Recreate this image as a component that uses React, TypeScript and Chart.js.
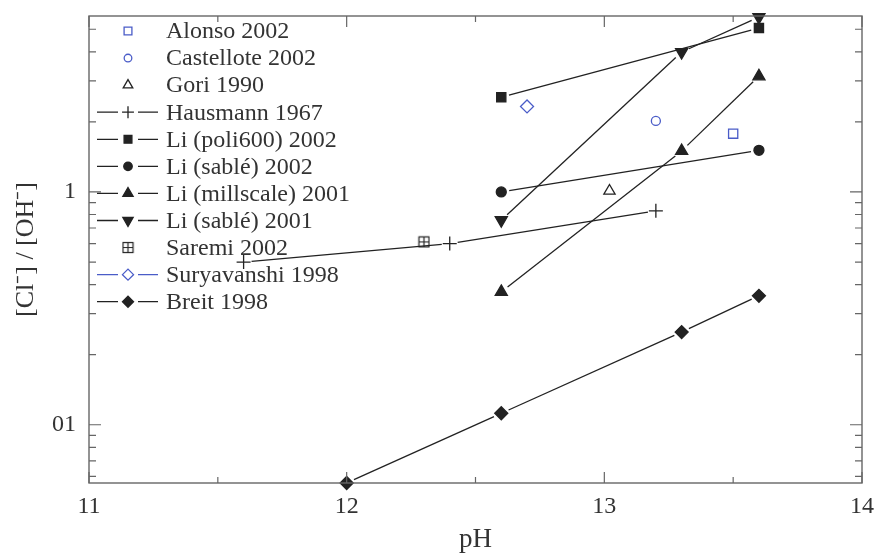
import React, { useEffect, useRef } from "react";
import { Chart, registerables } from "chart.js";
import { drawPoint } from "chart.js/helpers";

Chart.register(...registerables);

// ---- data (pH, [Cl-]/[OH-]) ----
const alonsoX = [13.5];
const alonsoY = [1.78];
const castelloteX = [13.2];
const castelloteY = [2.02];
const goriX = [13.02];
const goriY = [1.01];
const hausmannX = [11.6, 12.4, 13.2];
const hausmannY = [0.5, 0.6, 0.83];
const liPoliX = [12.6, 13.6];
const liPoliY = [2.55, 5.06];
const liSable2002X = [12.6, 13.6];
const liSable2002Y = [1.0, 1.51];
const liMillX = [12.6, 13.3, 13.6];
const liMillY = [0.372, 1.5, 3.14];
const liSable2001X = [12.6, 13.3, 13.6];
const liSable2001Y = [0.756, 3.99, 5.64];
const saremiX = [12.3];
const saremiY = [0.61];
const suryX = [12.7];
const suryY = [2.33];
const breitX = [12.0, 12.6, 13.3, 13.6];
const breitY = [0.0562, 0.112, 0.25, 0.358];

const seriesLabels = [
  "Alonso 2002",
  "Castellote 2002",
  "Gori 1990",
  "Hausmann 1967",
  "Li (poli600) 2002",
  "Li (sablé) 2002",
  "Li (millscale) 2001",
  "Li (sablé) 2001",
  "Saremi 2002",
  "Suryavanshi 1998",
  "Breit 1998",
];

// ---- axes ----
const xMin = 11;
const xMax = 14;
const yMin = 0.0562;
const yMax = 5.7;
const xLabelTicks = [11, 12, 13, 14];
const xMinorTicks = [11.5, 12.5, 13.5];
const yLabelTicks = [0.1, 1];
const yTickLabels = ["01", "1"];
const yMinorTicks = [0.06, 0.07, 0.08, 0.09, 0.2, 0.3, 0.4, 0.5, 0.6, 0.7, 0.8, 0.9, 2, 3, 4, 5];

const SERIF = '"Liberation Serif", "Times New Roman", serif';
const BLUE = "#4a5cc8";
const INK = "#222";

function makeSaremiMarker(): HTMLCanvasElement {
  const c = document.createElement("canvas");
  c.width = 13;
  c.height = 13;
  const g = c.getContext("2d")!;
  g.strokeStyle = INK;
  g.lineWidth = 1.2;
  g.strokeRect(1.5, 1.5, 10, 10);
  g.beginPath();
  g.moveTo(6.5, 1.5);
  g.lineTo(6.5, 11.5);
  g.moveTo(1.5, 6.5);
  g.lineTo(11.5, 6.5);
  g.stroke();
  return c;
}

function pts(xs: number[], ys: number[]) {
  return xs.map((x, i) => ({ x, y: ys[i] }));
}

const GAP = 8;

const gapLinePlugin = {
  id: "gapLines",
  beforeDatasetsDraw(chart: any) {
    const ctx = chart.ctx;
    chart.data.datasets.forEach((ds: any, i: number) => {
      if (!ds.gapLine) return;
      const meta = chart.getDatasetMeta(i);
      const p = meta.data;
      ctx.save();
      ctx.strokeStyle = ds.lineColor;
      ctx.lineWidth = 1.3;
      for (let k = 0; k < p.length - 1; k++) {
        const a = p[k], b = p[k + 1];
        const dx = b.x - a.x, dy = b.y - a.y;
        const len = Math.hypot(dx, dy);
        if (len < 2 * GAP) continue;
        const ux = dx / len, uy = dy / len;
        ctx.beginPath();
        ctx.moveTo(a.x + ux * GAP, a.y + uy * GAP);
        ctx.lineTo(b.x - ux * GAP, b.y - uy * GAP);
        ctx.stroke();
      }
      ctx.restore();
    });
  },
};

const framePlugin = {
  id: "frameTicks",
  afterDraw(chart: any) {
    const ctx = chart.ctx;
    const { left, right, top, bottom } = chart.chartArea;
    const xs = chart.scales.x, ys = chart.scales.y;
    ctx.save();
    ctx.strokeStyle = "#666";
    ctx.lineWidth = 1.4;
    ctx.strokeRect(left, top, right - left, bottom - top);
    ctx.lineWidth = 1.2;
    ctx.beginPath();
    const xt = (v: number, len: number) => {
      const px = xs.getPixelForValue(v);
      ctx.moveTo(px, bottom);
      ctx.lineTo(px, bottom - len);
      ctx.moveTo(px, top);
      ctx.lineTo(px, top + len);
    };
    const yt = (v: number, len: number) => {
      const py = ys.getPixelForValue(v);
      ctx.moveTo(left, py);
      ctx.lineTo(left + len, py);
      ctx.moveTo(right, py);
      ctx.lineTo(right - len, py);
    };
    xLabelTicks.forEach((v) => xt(v, 11));
    xMinorTicks.forEach((v) => xt(v, 6));
    yLabelTicks.forEach((v) => yt(v, 12));
    yMinorTicks.forEach((v) => yt(v, 7));
    ctx.stroke();
    ctx.restore();
  },
};

const legendPlugin = {
  id: "insideLegend",
  afterDraw(chart: any) {
    const ctx = chart.ctx;
    const x0 = 97, x1 = 158, xm = 128, xt = 166;
    const yStart = 31, dy = 27.07;
    ctx.save();
    chart.data.datasets.forEach((ds: any, i: number) => {
      const y = yStart + i * dy;
      if (ds.gapLine) {
        ctx.strokeStyle = ds.lineColor;
        ctx.lineWidth = 1.3;
        ctx.beginPath();
        ctx.moveTo(x0, y);
        ctx.lineTo(xm - GAP - 2, y);
        ctx.moveTo(xm + GAP + 2, y);
        ctx.lineTo(x1, y);
        ctx.stroke();
      }
      ctx.fillStyle = ds.pointBackgroundColor;
      ctx.strokeStyle = ds.pointBorderColor;
      ctx.lineWidth = ds.pointBorderWidth;
      drawPoint(
        ctx,
        {
          pointStyle: ds.pointStyle,
          rotation: ds.pointRotation || 0,
          radius: ds.pointRadius * 0.85,
          borderWidth: ds.pointBorderWidth,
        },
        xm,
        y
      );
      ctx.fillStyle = "#333";
      ctx.font = `24px ${SERIF}`;
      ctx.textBaseline = "middle";
      ctx.textAlign = "left";
      ctx.fillText(ds.label, xt, y + 1);
    });
    ctx.restore();
  },
};

export default function App() {
  const ref = useRef<HTMLCanvasElement | null>(null);

  useEffect(() => {
    const saremiMarker = makeSaremiMarker();
    const base = {
      showLine: false,
      clip: false,
      pointBorderWidth: 1.3,
      pointHoverRadius: 0,
    };
    const datasets: any[] = [
      { ...base, label: seriesLabels[0], data: pts(alonsoX, alonsoY), pointStyle: "rect", pointRadius: 6.5, pointBackgroundColor: "rgba(255,255,255,0)", pointBorderColor: BLUE, gapLine: false },
      { ...base, label: seriesLabels[1], data: pts(castelloteX, castelloteY), pointStyle: "circle", pointRadius: 4.5, pointBackgroundColor: "rgba(255,255,255,0)", pointBorderColor: BLUE, gapLine: false },
      { ...base, label: seriesLabels[2], data: pts(goriX, goriY), pointStyle: "triangle", pointRadius: 6.5, pointBackgroundColor: "rgba(255,255,255,0)", pointBorderColor: INK, gapLine: false },
      { ...base, label: seriesLabels[3], data: pts(hausmannX, hausmannY), pointStyle: "cross", pointRadius: 7, pointBackgroundColor: INK, pointBorderColor: INK, gapLine: true, lineColor: INK },
      { ...base, label: seriesLabels[4], data: pts(liPoliX, liPoliY), pointStyle: "rect", pointRadius: 6.5, pointBackgroundColor: INK, pointBorderColor: INK, gapLine: true, lineColor: INK },
      { ...base, label: seriesLabels[5], data: pts(liSable2002X, liSable2002Y), pointStyle: "circle", pointRadius: 5, pointBackgroundColor: INK, pointBorderColor: INK, gapLine: true, lineColor: INK },
      { ...base, label: seriesLabels[6], data: pts(liMillX, liMillY), pointStyle: "triangle", pointRadius: 7, pointBackgroundColor: INK, pointBorderColor: INK, gapLine: true, lineColor: INK },
      { ...base, label: seriesLabels[7], data: pts(liSable2001X, liSable2001Y), pointStyle: "triangle", pointRotation: 180, pointRadius: 7, pointBackgroundColor: INK, pointBorderColor: INK, gapLine: true, lineColor: INK },
      { ...base, label: seriesLabels[8], data: pts(saremiX, saremiY), pointStyle: saremiMarker, pointRadius: 6, pointBackgroundColor: INK, pointBorderColor: INK, gapLine: false },
      { ...base, label: seriesLabels[9], data: pts(suryX, suryY), pointStyle: "rectRot", pointRadius: 6.5, pointBackgroundColor: "rgba(255,255,255,0)", pointBorderColor: BLUE, gapLine: true, lineColor: BLUE },
      { ...base, label: seriesLabels[10], data: pts(breitX, breitY), pointStyle: "rectRot", pointRadius: 6.5, pointBackgroundColor: INK, pointBorderColor: INK, gapLine: true, lineColor: INK },
    ];

    const zeroPad = (s: any) => {
      s.paddingTop = 0;
      s.paddingBottom = 0;
      s.paddingLeft = 0;
      s.paddingRight = 0;
    };

    const chart = new Chart(ref.current!, {
      type: "scatter",
      data: { datasets },
      options: {
        animation: false,
        responsive: false,
        devicePixelRatio: 1,
        layout: { padding: { top: 16, right: 14, left: 0, bottom: 0 } },
        plugins: { legend: { display: false }, tooltip: { enabled: false } },
        scales: {
          x: {
            type: "linear",
            min: xMin,
            max: xMax,
            afterBuildTicks: (s: any) => {
              s.ticks = xLabelTicks.map((v) => ({ value: v }));
            },
            afterFit: (s: any) => {
              s.height = 70;
              zeroPad(s);
            },
            grid: { display: false, drawTicks: false },
            border: { display: false },
            ticks: {
              color: "#333",
              padding: 9,
              font: { family: SERIF, size: 24 },
              callback: (v: any) => String(v),
            },
            title: {
              display: true,
              text: "pH",
              color: "#333",
              font: { family: SERIF, size: 27 },
              padding: { top: 0, bottom: -3 },
            },
          },
          y: {
            type: "logarithmic",
            min: yMin,
            max: yMax,
            afterBuildTicks: (s: any) => {
              s.ticks = yLabelTicks.map((v) => ({ value: v }));
            },
            afterFit: (s: any) => {
              s.width = 89;
              zeroPad(s);
            },
            grid: { display: false, drawTicks: false },
            border: { display: false },
            ticks: {
              color: "#333",
              padding: 13,
              font: { family: SERIF, size: 24 },
              callback: (_v: any, idx: number) => yTickLabels[idx],
            },
            title: {
              display: true,
              text: "[Cl⁻] / [OH⁻]",
              color: "#333",
              font: { family: SERIF, size: 26 },
              padding: { top: 11, bottom: 0 },
            },
          },
        },
      } as any,
      plugins: [gapLinePlugin, framePlugin, legendPlugin],
    });
    return () => chart.destroy();
  }, []);

  return (
    <div style={{ position: "fixed", left: 0, top: 0, width: 876, height: 553, background: "#fff" }}>
      <canvas ref={ref} width={876} height={553} style={{ display: "block", width: 876, height: 553 }} />
    </div>
  );
}
